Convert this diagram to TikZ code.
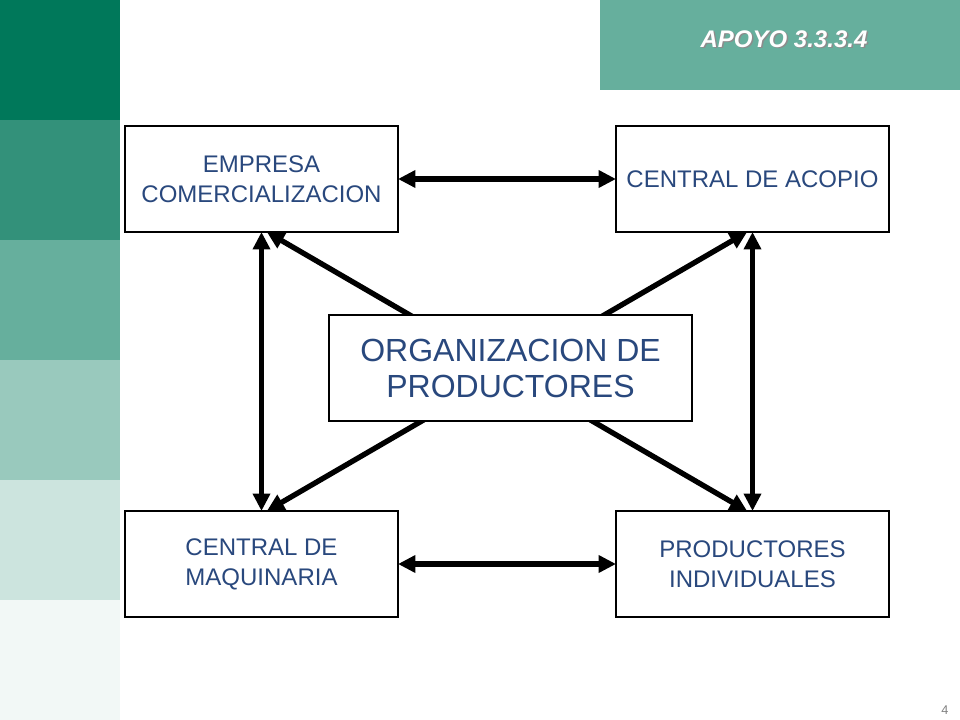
\documentclass[tikz,border=0pt]{standalone}
\usepackage{fontspec}
\setmainfont{Liberation Sans}
\usepackage{tikz}
\usetikzlibrary{arrows.meta,
                positioning}
\definecolor{G1}{RGB}{0,120,90}
\definecolor{G2}{RGB}{51,145,122}
\definecolor{G3}{RGB}{102,175,157}
\definecolor{G4}{RGB}{153,201,189}
\definecolor{G5}{RGB}{204,228,222}
\definecolor{G6}{RGB}{242,248,246}
\definecolor{TXT}{RGB}{41,72,125}

\begin{document}
\begin{tikzpicture}[x=0.75pt, y=-0.75pt,
   BOX/.style = {draw, line width=0.9pt, fill=white, text=TXT,
                 minimum width=204.75pt, minimum height=79.5pt,
                 inner sep=0pt, outer sep=0pt, align=center,
                 font=\fontsize{18}{22.5}\selectfont},
   BIG/.style = {BOX, minimum width=272.25pt,
                 font=\fontsize{24}{27}\selectfont},
   ARR/.style = {line width=4pt,
                 {Triangle[length=13pt,width=12.5pt]}-{Triangle[length=13pt,width=12.5pt]}}
                    ]
\useasboundingbox (0,0) rectangle (960,720);
% left strip
\fill[G1] (0,0)   rectangle (120,120);
\fill[G2] (0,120) rectangle (120,240);
\fill[G3] (0,240) rectangle (120,360);
\fill[G4] (0,360) rectangle (120,480);
\fill[G5] (0,480) rectangle (120,600);
\fill[G6] (0,600) rectangle (120,720);
% title
\fill[G3] (600,0) rectangle (960,90);
\node (ttls) [text=black!45, font=\fontsize{18}{22}\selectfont\bfseries\itshape]
      at (785.5,40.5) {APOYO 3.3.3.4};
\node (ttl)  [text=white, font=\fontsize{18}{22}\selectfont\bfseries\itshape]
      at (784,39) {APOYO 3.3.3.4};
% boxes
\node (emp)  [BOX] at (261.5,179) {EMPRESA\\ COMERCIALIZACION};
\node (acop) [BOX, right=163.5pt of emp]  {CENTRAL DE ACOPIO};
\node (cmaq) [BOX, below=209.25pt of emp] {CENTRAL DE\\ MAQUINARIA};
\node (prod) [BOX, below=209.25pt of acop] {PRODUCTORES\\ INDIVIDUALES};
% arrows
\draw[ARR] (emp)  -- (acop);
\draw[ARR] (cmaq) -- (prod);
\draw[ARR] (emp)  -- (cmaq);
\draw[ARR] (acop) -- (prod);
\draw[ARR] ([xshift=4pt]emp.south)  -- ([xshift=-4pt]prod.north);
\draw[ARR] ([xshift=4pt]cmaq.north) -- ([xshift=-4pt]acop.south);
% center
\node (org)  [BIG] at (510.5,368) {ORGANIZACION DE\\ PRODUCTORES};
% page number
\node (pg) [text=black!50, font=\fontsize{9.5}{11}\selectfont] at (945,710) {4};
\end{tikzpicture}
\end{document}
